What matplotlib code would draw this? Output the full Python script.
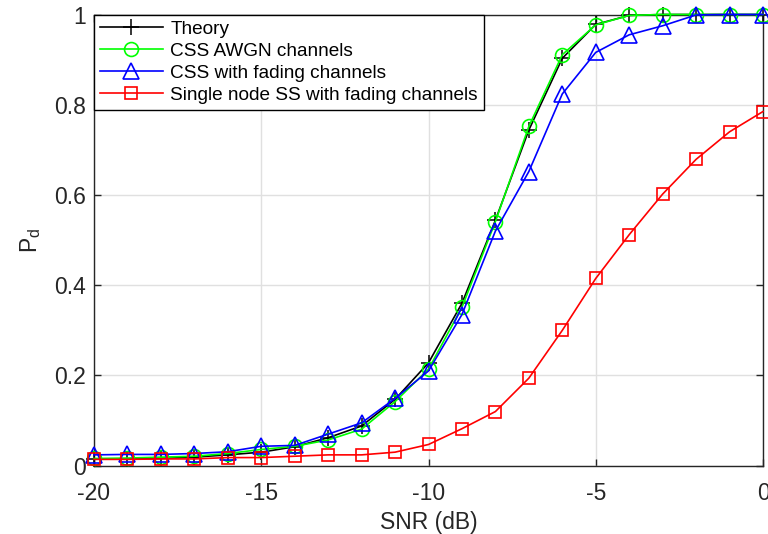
import matplotlib
matplotlib.use("Agg")
import matplotlib.pyplot as plt
import numpy as np

plt.rcParams['font.family'] = ['Liberation Sans', 'DejaVu Sans']
plt.rcParams['axes.unicode_minus'] = False

snr = list(range(-20, 1))
theory = [0.015, 0.015, 0.016, 0.019, 0.024, 0.03, 0.042, 0.062, 0.088, 0.147, 0.228,
          0.36, 0.544, 0.744, 0.903, 0.978, 0.998, 1.0, 1.0, 1.0, 1.0]
css_awgn = [0.016, 0.017, 0.019, 0.021, 0.027, 0.036, 0.043, 0.057, 0.081, 0.142, 0.214,
            0.351, 0.541, 0.752, 0.911, 0.977, 0.998, 1.0, 1.0, 1.0, 1.0]
css_fading = [0.024, 0.025, 0.025, 0.027, 0.031, 0.043, 0.045, 0.07, 0.095, 0.149, 0.21,
              0.335, 0.52, 0.652, 0.824, 0.916, 0.955, 0.975, 0.999, 1.0, 1.0]
single_node = [0.014, 0.014, 0.015, 0.015, 0.018, 0.018, 0.021, 0.024, 0.024, 0.03, 0.047,
               0.082, 0.12, 0.194, 0.30, 0.415, 0.512, 0.602, 0.679, 0.74, 0.785]
labels = ["Theory", "CSS AWGN channels", "CSS with fading channels",
          "Single node SS with fading channels"]

fig = plt.figure(figsize=(7.68, 5.34), dpi=100)
ax = fig.add_axes([94/768, 1 - 465.7/534, (763-94)/768, (465.7-14.5)/534])

lw = 1.2
ax.plot(snr, theory, color='black', marker='+', markersize=11, lw=lw, mew=1.1,
        label=labels[0], clip_on=False, zorder=3)
ax.plot(snr, css_awgn, color=(0, 1, 0), marker='o', markersize=10, lw=lw, mew=1.2,
        markerfacecolor='none', label=labels[1], clip_on=False, zorder=3)
ax.plot(snr, css_fading, color=(0, 0, 1), marker='^', markersize=11.5, lw=lw, mew=1.2,
        markerfacecolor='none', label=labels[2], clip_on=False, zorder=3)
ax.plot(snr, single_node, color=(1, 0, 0), marker='s', markersize=8.5, lw=lw, mew=1.2,
        markerfacecolor='none', label=labels[3], clip_on=False, zorder=3)

ax.set_xlim(-20, 0)
ax.set_ylim(0, 1)
ax.set_xticks([-20, -15, -10, -5, 0])
ax.set_yticks([0, 0.2, 0.4, 0.6, 0.8, 1])
ax.set_yticklabels(['0', '0.2', '0.4', '0.6', '0.8', '1'])
ax.grid(True, color='#e0e0e0', lw=1.0)
ax.set_axisbelow(True)
for s in ax.spines.values():
    s.set_color('#262626')
    s.set_linewidth(1.0)
ax.tick_params(direction='in', top=True, right=True, labelsize=16.5, colors='#262626',
               length=5, width=1.0)
ax.tick_params(axis='x', pad=12)
ax.tick_params(axis='y', pad=6)
for t in ax.get_xticklabels() + ax.get_yticklabels():
    t.set_color('#262626')
ax.set_xlabel('SNR (dB)', fontsize=16.5, color='#262626', labelpad=4)
ax.set_ylabel(r'$\mathregular{P_d}$', fontsize=16.5, color='#262626', labelpad=8)

leg = ax.legend(loc='upper left', borderaxespad=0, fontsize=13.7, frameon=True,
                fancybox=False, edgecolor='black', framealpha=1, handlelength=3.3,
                labelspacing=0.24, borderpad=0.32, handletextpad=0.4)
leg.get_frame().set_linewidth(1.0)
leg.set_zorder(5)

fig.savefig('out.png', dpi=100)
